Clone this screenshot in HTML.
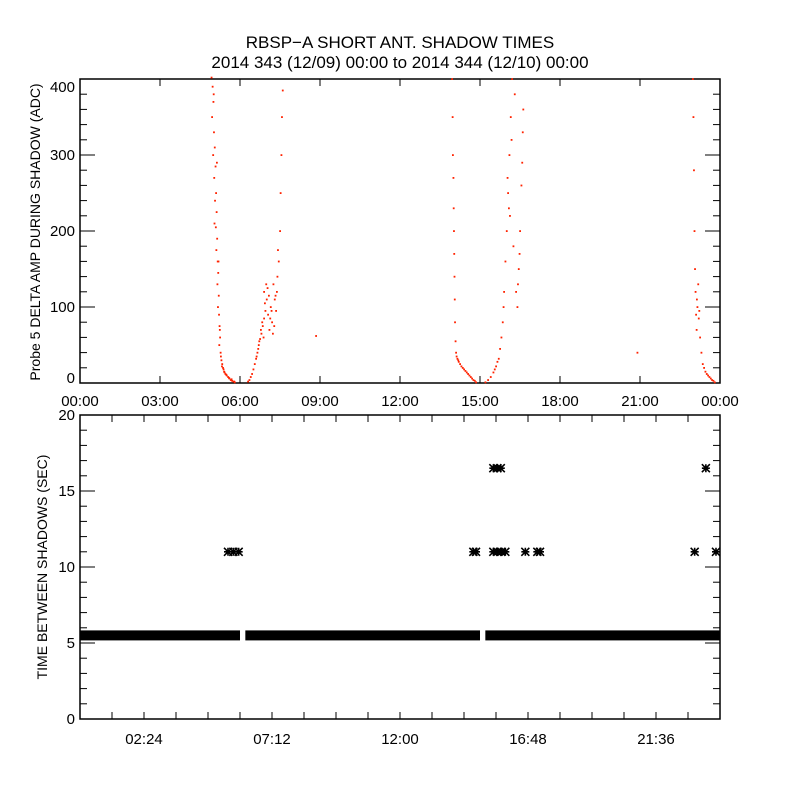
<!DOCTYPE html>
<html><head><meta charset="utf-8"><style>
html,body{margin:0;padding:0;background:#fff;}
svg{display:block;font-family:"Liberation Sans",sans-serif;}
</style></head><body>
<svg id="chart" width="800" height="800" viewBox="0 0 800 800" xmlns="http://www.w3.org/2000/svg">
<rect width="800" height="800" fill="#fff"/>
<text x="400" y="48" text-anchor="middle" font-size="17">RBSP−A SHORT ANT. SHADOW TIMES</text>
<text x="400" y="68" text-anchor="middle" font-size="17">2014 343 (12/09) 00:00 to 2014 344 (12/10) 00:00</text>
<g id="top"></g>
<g id="bot"></g>
</svg>
<script>
// ---- Top panel data: [hour, ADC value]
const ampHours = [4.93,4.97,5.00,4.95,5.02,5.05,4.99,5.08,5.03,5.10,5.06,5.12,5.04,5.09,5.14,5.11,5.16,5.18,5.15,5.20,5.17,5.21,5.23,5.25,5.22,5.27,5.30,5.33,5.36,5.40,5.45,5.50,5.55,5.60,5.65,5.70,5.75,5.80,5.01,5.13,5.19,5.24,5.28,5.32,5.38,5.42,5.48,5.58,5.68,5.78,
6.30,6.35,6.40,6.45,6.50,6.55,6.60,6.65,6.70,6.75,6.80,6.85,6.90,6.95,7.00,7.05,7.10,6.90,7.15,7.20,7.25,7.30,7.35,7.40,7.45,7.50,7.52,7.55,7.57,7.60,6.98,7.08,7.28,7.38,7.42,6.88,6.93,7.03,7.13,7.18,7.23,7.33,6.62,6.68,6.72,6.78,6.83,
13.95,13.97,13.98,14.00,14.01,14.02,14.03,14.04,14.05,14.06,14.08,14.10,14.15,14.20,14.25,14.30,14.40,14.50,14.60,14.70,14.80,14.85,14.12,14.18,14.35,14.45,14.55,14.65,14.75,
15.20,15.30,15.40,15.50,15.60,15.70,15.75,15.85,15.90,15.95,16.00,16.05,16.10,16.15,16.20,16.12,16.25,16.35,16.40,16.45,16.50,16.55,16.60,16.62,16.30,16.03,15.80,15.88,16.08,16.18,16.42,16.48,16.58,15.65,15.55,
22.98,23.00,23.02,23.04,23.06,23.08,23.10,23.12,23.15,23.18,23.20,23.25,23.30,23.35,23.45,23.55,23.65,23.75,23.80,23.13,23.22,23.40,23.50,23.60,23.70,
8.85,20.90];
const ampValues = [405,390,370,350,330,310,300,285,270,250,240,225,210,205,190,175,160,145,130,115,100,90,75,60,50,40,30,25,20,15,12,10,8,6,4,3,2,1,380,290,160,70,35,22,18,14,11,7,5,2,
2,4,8,12,18,25,32,40,50,58,65,75,85,95,110,90,70,120,100,80,130,110,95,140,160,200,250,300,350,385,130,115,75,120,175,60,105,125,85,95,65,115,35,45,55,70,80,
400,350,300,270,230,200,170,140,110,80,55,40,32,28,25,22,18,14,10,6,3,1,35,30,20,16,12,8,4,
1,4,8,14,22,32,45,80,120,160,200,250,300,350,400,220,180,120,100,150,200,260,330,360,380,270,60,100,230,320,130,170,290,28,18,
400,350,280,200,150,120,90,70,100,130,85,60,40,25,15,10,6,3,1,110,95,20,12,8,4,
62,40];
const topXTicks = ["00:00","03:00","06:00","09:00","12:00","15:00","18:00","21:00","00:00"];
const topYTicks = [0,100,200,300,400];

// ---- Bottom panel data
const bandStarts = [0.0, 6.2, 15.2];
const bandEnds = [6.0, 15.0, 24.0];
const bandValue = 5.5;
const gapHours = [5.55,5.75,5.95,14.75,14.85,15.5,15.65,15.8,15.95,16.7,17.15,17.25,23.05,23.85,15.5,15.65,15.78,23.47];
const gapValues = [11,11,11,11,11,11,11,11,11,11,11,11,11,11,16.5,16.5,16.5,16.5];
const botXTicks = ["02:24","07:12","12:00","16:48","21:36"];
const botYTicks = [0,5,10,15,20];

const NS="http://www.w3.org/2000/svg";
function mk(p,tag,attrs){const e=document.createElementNS(NS,tag);for(const k in attrs)e.setAttribute(k,attrs[k]);p.appendChild(e);return e;}
const L=80,R=720;
const xH=h=>L+(R-L)*h/24;
// top axes
const tT=79,tB=383;
const yT=v=>tB-(tB-tT)*v/400;
const gT=document.getElementById('top');
const tf=mk(gT,'rect',{x:L,y:tT,width:R-L,height:tB-tT,fill:'none',stroke:'#000','stroke-width':1.5});


for(let v=0;v<=400;v+=20){const maj=v%100===0,len=maj?15:7;const y=yT(v);
 mk(gT,'line',{x1:L,y1:y,x2:L+len,y2:y,stroke:'#000'});mk(gT,'line',{x1:R,y1:y,x2:R-len,y2:y,stroke:'#000'});}
topYTicks.forEach(v=>{const t=mk(gT,'text',{x:75,y:Math.min(Math.max(yT(v)+5,92),383),'text-anchor':'end','font-size':15});t.textContent=v;
 
 });
topXTicks.forEach((s,i)=>{const x=xH(i*3);mk(gT,'line',{x1:x,y1:tB,x2:x,y2:tB-7,stroke:'#000'});mk(gT,'line',{x1:x,y1:tT,x2:x,y2:tT+7,stroke:'#000'});
 const t=mk(gT,'text',{x:x,y:406,'text-anchor':'middle','font-size':15});t.textContent=s;
 
 });
const ty=mk(gT,'text',{x:0,y:0,transform:'translate(40,232) rotate(-90)','text-anchor':'middle','font-size':14});ty.textContent='Probe 5 DELTA AMP DURING SHADOW (ADC)';


ampHours.forEach((h,i)=>{const v=Math.min(ampValues[i],402);const p=mk(gT,'rect',{x:xH(h)-0.8,y:yT(v)-0.8,width:1.8,height:1.8,fill:'#ff2200'});
 
 });
// bottom axes
const bT=415,bB=719;
const yB=v=>bB-(bB-bT)*v/20;
const gB=document.getElementById('bot');
const bf=mk(gB,'rect',{x:L,y:bT,width:R-L,height:bB-bT,fill:'none',stroke:'#000','stroke-width':1.5});


for(let v=0;v<=20;v++){const maj=v%5===0,len=maj?15:7;const y=yB(v);
 mk(gB,'line',{x1:L,y1:y,x2:L+len,y2:y,stroke:'#000'});mk(gB,'line',{x1:R,y1:y,x2:R-len,y2:y,stroke:'#000'});}
botYTicks.forEach(v=>{const t=mk(gB,'text',{x:75,y:yB(v)+5,'text-anchor':'end','font-size':15});t.textContent=v;
 
 });
for(let k=0;k<=20;k++){const x=xH(k*1.2);const len=7;
 mk(gB,'line',{x1:x,y1:bB,x2:x,y2:bB-len,stroke:'#000'});mk(gB,'line',{x1:x,y1:bT,x2:x,y2:bT+len,stroke:'#000'});}
botXTicks.forEach((s,i)=>{const x=xH(2.4+i*4.8);const t=mk(gB,'text',{x:x,y:744,'text-anchor':'middle','font-size':15});t.textContent=s;
 
 });
const by=mk(gB,'text',{x:0,y:0,transform:'translate(47,567) rotate(-90)','text-anchor':'middle','font-size':14});by.textContent='TIME BETWEEN SHADOWS (SEC)';


bandStarts.forEach((s,i)=>{const b=mk(gB,'rect',{x:xH(s),y:yB(bandValue)-5,width:xH(bandEnds[i])-xH(s),height:10,fill:'#000'});
 
 });
gapHours.forEach((h,i)=>{const cx=xH(h),cy=yB(gapValues[i]),r=4;
 const d=`M${cx-r},${cy}H${cx+r}M${cx},${cy-r}V${cy+r}M${cx-r},${cy-r}L${cx+r},${cy+r}M${cx-r},${cy+r}L${cx+r},${cy-r}`;
 const p=mk(gB,'path',{d:d,stroke:'#000','stroke-width':1.6,fill:'none'});
 
 });
</script>
</body></html>
